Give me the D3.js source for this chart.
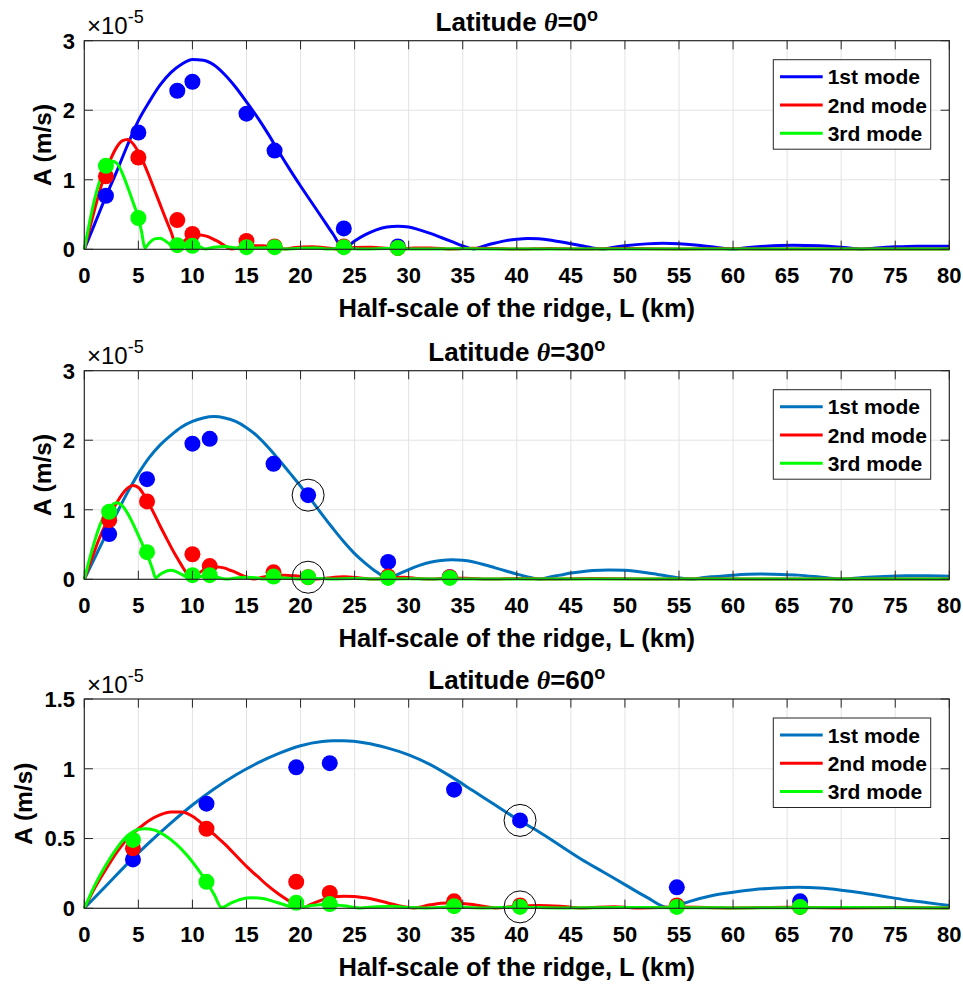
<!DOCTYPE html>
<html>
<head>
<meta charset="utf-8">
<script src="https://cdn.jsdelivr.net/npm/d3@7"></script>
<style>
  body { margin: 0; background: #fff; }
  text { font-family: "Liberation Sans", Arial, Helvetica, sans-serif; fill: #000; }
</style>
</head>
<body>
<div id="chart"></div>
<script>
// ---- Data (amplitudes in units of 1e-5 m/s, L in km) ----
var xTickValues = [0, 5, 10, 15, 20, 25, 30, 35, 40, 45, 50, 55, 60, 65, 70, 75, 80];
var p1YTicks = [0, 1, 2, 3];
var p2YTicks = [0, 1, 2, 3];
var p3YTicks = [0, 0.5, 1, 1.5];
var legendLabels = ["1st mode", "2nd mode", "3rd mode"];
var latitudes = ["0", "30", "60"];

// Latitude 0
var p1Mode1 = [[0,0],[1,0.38],[2,0.76],[3,1.12],[4,1.5],[5,1.85],[6,2.12],[7,2.36],[8,2.54],[9,2.66],[10,2.73],[11,2.72],[12,2.65],[13,2.51],[14,2.33],[15,2.12],[16,1.9],[17,1.66],[18,1.4],[19,1.15],[20,0.91],[21,0.68],[22,0.45],[23,0.22],[24,0.01],[25,0.12],[26,0.21],[27,0.28],[28,0.32],[29,0.33],[30,0.32],[31,0.28],[32,0.23],[33,0.17],[34,0.11],[35,0.05],[36,0.005],[37,0.05],[38,0.09],[39,0.125],[40,0.145],[41,0.155],[42,0.15],[43,0.135],[44,0.11],[45,0.08],[46,0.05],[47,0.02],[48,0.003],[49,0.03],[50,0.05],[52,0.078],[53.5,0.086],[55,0.08],[57,0.055],[58.5,0.025],[60,0.003],[61,0.02],[63,0.045],[65.5,0.058],[68,0.05],[70,0.03],[72,0.003],[73,0.015],[75,0.035],[77,0.045],[79,0.045],[80,0.043]];
var p1Mode2 = [[0,0],[0.5,0.3],[1,0.6],[1.5,0.88],[2,1.12],[2.5,1.32],[3,1.47],[3.5,1.56],[4,1.58],[4.5,1.52],[5,1.4],[5.5,1.24],[6,1.05],[6.5,0.85],[7,0.65],[7.5,0.45],[8,0.26],[8.6,0.03],[9,0.09],[9.5,0.15],[10,0.19],[10.5,0.21],[11,0.2],[11.5,0.18],[12,0.14],[12.5,0.1],[13,0.05],[13.6,0.005],[14.5,0.03],[15.5,0.05],[16.5,0.05],[17.5,0.03],[18.6,0.005],[19.5,0.025],[21,0.035],[22.5,0.02],[23.6,0.003],[25,0.025],[26.5,0.03],[28,0.015],[29,0.003],[30.5,0.02],[32,0.02],[34,0.005],[36,0.015],[38,0.012],[40,0.003],[43,0.012],[46,0.004],[50,0.01],[55,0.004],[60,0.008],[65,0.003],[70,0.006],[75,0.003],[80,0.005]];
var p1Mode3 = [[0,0],[0.5,0.4],[1,0.75],[1.5,1.02],[2,1.2],[2.5,1.27],[3,1.24],[3.5,1.1],[4,0.9],[4.5,0.68],[5,0.45],[5.3,0.25],[5.6,0.02],[6,0.09],[6.5,0.15],[7,0.16],[7.5,0.12],[8,0.06],[8.4,0.005],[9,0.05],[9.7,0.07],[10.5,0.05],[11.2,0.005],[12,0.03],[13,0.04],[14,0.02],[14.8,0.003],[16,0.02],[17.5,0.025],[18.5,0.003],[20,0.015],[21.5,0.018],[22.5,0.003],[24,0.012],[26,0.003],[28,0.01],[30,0.003],[35,0.008],[40,0.003],[50,0.005],[60,0.003],[70,0.004],[80,0.003]];
var p1DotL = [2, 5, 8.6, 10, 15, 17.6, 24, 29];
var p1Dot1 = [0.77, 1.68, 2.28, 2.41, 1.95, 1.42, 0.30, 0.04];
var p1Dot2 = [1.05, 1.32, 0.42, 0.22, 0.12, 0.04, 0.04, 0.02];
var p1Dot3 = [1.20, 0.45, 0.06, 0.05, 0.03, 0.03, 0.03, 0.02];
var p1Circled = [];

// Latitude 30
var p2Mode1 = [[0,0],[1,0.32],[2,0.64],[3,0.95],[4,1.25],[5,1.52],[6,1.75],[7,1.93],[8,2.07],[9,2.19],[10,2.27],[11,2.32],[12,2.34],[13,2.32],[14,2.27],[15,2.18],[16,2.06],[17,1.9],[18,1.72],[19,1.53],[20,1.34],[21,1.14],[22,0.93],[23,0.73],[24,0.54],[25,0.37],[26,0.23],[27,0.11],[28.2,0.01],[29,0.07],[30,0.14],[31,0.2],[32,0.245],[33,0.27],[34,0.28],[35,0.275],[36,0.25],[37,0.21],[38,0.165],[39,0.12],[40,0.075],[41,0.035],[42.2,0.003],[43,0.03],[44,0.06],[45,0.09],[46,0.11],[47,0.125],[48.5,0.135],[50,0.13],[51,0.115],[52,0.095],[53,0.07],[54,0.045],[55,0.02],[56.2,0.003],[57,0.02],[58,0.035],[60,0.06],[62.5,0.075],[64.5,0.07],[66,0.06],[67.5,0.04],[69,0.015],[70,0.003],[71,0.012],[72,0.025],[74,0.042],[76,0.05],[78,0.05],[80,0.045]];
var p2Mode2 = [[0,0],[0.5,0.22],[1,0.43],[1.5,0.63],[2,0.8],[2.5,0.96],[3,1.1],[3.5,1.22],[4,1.31],[4.5,1.35],[5,1.32],[5.5,1.22],[6,1.08],[6.5,0.93],[7,0.77],[7.5,0.62],[8,0.47],[8.5,0.33],[9,0.2],[9.5,0.08],[9.9,0.01],[10.5,0.08],[11,0.13],[11.5,0.16],[12,0.18],[12.5,0.175],[13,0.16],[13.5,0.13],[14,0.1],[14.5,0.065],[15,0.035],[15.7,0.004],[16.5,0.03],[17.5,0.055],[18.5,0.06],[19.5,0.05],[20.5,0.03],[21.5,0.005],[22.5,0.02],[24,0.035],[25.5,0.02],[26.8,0.003],[28,0.02],[29.5,0.03],[31,0.01],[32,0.003],[34,0.02],[36,0.01],[37.5,0.003],[40,0.012],[43,0.004],[47,0.01],[52,0.003],[58,0.008],[64,0.003],[70,0.006],[75,0.003],[80,0.005]];
var p2Mode3 = [[0,0],[0.5,0.3],[1,0.57],[1.5,0.8],[2,0.96],[2.5,1.06],[3,1.1],[3.5,1.06],[4,0.95],[4.5,0.8],[5,0.63],[5.5,0.46],[6,0.28],[6.3,0.15],[6.6,0.02],[7,0.07],[7.5,0.11],[8,0.13],[8.5,0.11],[9,0.07],[9.5,0.03],[9.9,0.003],[10.5,0.03],[11.3,0.05],[12,0.04],[12.8,0.01],[13.2,0.003],[14,0.02],[15,0.03],[16,0.02],[16.6,0.003],[17.5,0.015],[18.5,0.02],[20,0.003],[21.5,0.012],[23,0.003],[25,0.01],[27,0.003],[30,0.008],[35,0.003],[40,0.006],[50,0.003],[60,0.005],[70,0.003],[80,0.004]];
var p2DotL = [2.3, 5.8, 10, 11.6, 17.5, 20.7, 28.1, 33.8];
var p2Dot1 = [0.65, 1.44, 1.95, 2.02, 1.66, 1.21, 0.25, 0.03];
var p2Dot2 = [0.85, 1.12, 0.36, 0.19, 0.10, 0.03, 0.04, 0.03];
var p2Dot3 = [0.97, 0.39, 0.06, 0.06, 0.04, 0.03, 0.02, 0.02];
var p2Circled = [[20.7, 1.21], [20.7, 0.03]];

// Latitude 60
var p3Mode1 = [[0,0],[2,0.16],[4,0.32],[6,0.47],[8,0.61],[10,0.74],[12,0.855],[14,0.955],[16,1.04],[18,1.11],[20,1.165],[22,1.195],[23,1.2],[24,1.2],[26,1.185],[28,1.15],[30,1.1],[32,1.03],[34,0.94],[36,0.84],[38,0.74],[40,0.64],[42,0.55],[44,0.45],[46,0.35],[48,0.26],[50,0.17],[52,0.08],[54,0.005],[55,0.025],[56,0.05],[58,0.09],[60,0.115],[62,0.135],[64,0.145],[66,0.15],[68,0.145],[70,0.13],[72,0.11],[74,0.085],[76,0.06],[78,0.04],[80,0.02]];
var p3Mode2 = [[0,0],[1,0.15],[2,0.28],[3,0.4],[4,0.5],[5,0.57],[6,0.63],[7,0.67],[8,0.69],[9,0.69],[10,0.66],[11,0.6],[12,0.53],[13,0.46],[14,0.38],[15,0.3],[16,0.23],[17,0.16],[18,0.1],[19,0.05],[20.2,0.005],[21,0.03],[22,0.06],[23,0.08],[24,0.087],[25,0.085],[26,0.075],[27,0.06],[28,0.04],[29,0.02],[30.5,0.003],[32,0.025],[33.5,0.038],[35,0.035],[36.5,0.02],[38,0.003],[40,0.015],[42,0.02],[44,0.015],[46,0.003],[49,0.012],[51,0.003],[55,0.01],[60,0.003],[65,0.008],[70,0.003],[75,0.006],[80,0.003]];
var p3Mode3 = [[0,0],[1,0.17],[2,0.31],[3,0.43],[4,0.52],[5,0.565],[5.6,0.57],[6.5,0.56],[7.5,0.52],[8.5,0.46],[9.5,0.38],[10.5,0.28],[11.3,0.19],[12,0.1],[12.7,0.005],[13.5,0.035],[14.5,0.065],[15.5,0.075],[16.5,0.07],[17.5,0.05],[18.5,0.025],[19.7,0.003],[21,0.02],[22.5,0.028],[24,0.018],[25.5,0.003],[27,0.012],[28.5,0.015],[30,0.005],[31.5,0.003],[34,0.01],[37,0.003],[40,0.008],[44,0.003],[50,0.006],[60,0.003],[70,0.005],[80,0.003]];
var p3DotL = [4.5, 11.3, 19.6, 22.7, 34.2, 40.3, 54.8, 66.2];
var p3Dot1 = [0.35, 0.75, 1.01, 1.04, 0.85, 0.63, 0.15, 0.05];
var p3Dot2 = [0.43, 0.57, 0.19, 0.11, 0.05, 0.02, 0.02, 0.01];
var p3Dot3 = [0.49, 0.19, 0.04, 0.03, 0.015, 0.01, 0.01, 0.01];
var p3Circled = [[40.3, 0.63], [40.3, 0.01]];

// ---- Layout ----
var svgWidth = 963;
var svgHeight = 986;
var plotLeft = 84.3;
var plotRight = 949.3;
var tickLen = 8.65;
var dotColors = ["#0000ff", "#ff0000", "#00ff00"];

var panels = [
  { lat: latitudes[0], top: 40.7, bottom: 249.3, yMax: 3, yTicks: p1YTicks, yLabelX: 51,
    modes: [p1Mode1, p1Mode2, p1Mode3], lineColors: ["#0000ff", "#ff0000", "#00ff00"],
    dotL: p1DotL, dots: [p1Dot1, p1Dot2, p1Dot3], circled: p1Circled },
  { lat: latitudes[1], top: 370.7, bottom: 579.3, yMax: 3, yTicks: p2YTicks, yLabelX: 51,
    modes: [p2Mode1, p2Mode2, p2Mode3], lineColors: ["#0072bd", "#ff0000", "#00ff00"],
    dotL: p2DotL, dots: [p2Dot1, p2Dot2, p2Dot3], circled: p2Circled },
  { lat: latitudes[2], top: 699, bottom: 908.3, yMax: 1.5, yTicks: p3YTicks, yLabelX: 32,
    modes: [p3Mode1, p3Mode2, p3Mode3], lineColors: ["#0072bd", "#ff0000", "#00ff00"],
    dotL: p3DotL, dots: [p3Dot1, p3Dot2, p3Dot3], circled: p3Circled }
];

var svg = d3.select("#chart")
  .append("svg")
  .attr("width", svgWidth)
  .attr("height", svgHeight)
  .style("display", "block");

svg.append("rect").attr("width", svgWidth).attr("height", svgHeight).attr("fill", "#fff");

var xScale = d3.scaleLinear().domain([0, 80]).range([plotLeft, plotRight]);

panels.forEach(function(p) {
  var yScale = d3.scaleLinear().domain([0, p.yMax]).range([p.bottom, p.top]);
  var g = svg.append("g");
  var cx = (plotLeft + plotRight) / 2;

  // grid
  g.selectAll(".gx").data(xTickValues.slice(1, -1)).enter().append("line")
    .attr("x1", d => xScale(d)).attr("x2", d => xScale(d))
    .attr("y1", p.top).attr("y2", p.bottom)
    .attr("stroke", "#e3e3e3").attr("stroke-width", 1);
  g.selectAll(".gy").data(p.yTicks.slice(1, -1)).enter().append("line")
    .attr("x1", plotLeft).attr("x2", plotRight)
    .attr("y1", d => yScale(d)).attr("y2", d => yScale(d))
    .attr("stroke", "#e3e3e3").attr("stroke-width", 1);

  // curves
  var line = d3.line()
    .x(d => xScale(d[0]))
    .y(d => yScale(d[1]))
    .curve(d3.curveMonotoneX);
  p.modes.forEach(function(m, i) {
    g.append("path").attr("d", line(m))
      .attr("fill", "none")
      .attr("stroke", p.lineColors[i])
      .attr("stroke-width", 3)
      .attr("stroke-linejoin", "round");
  });

  // simulated points
  p.dots.forEach(function(vals, i) {
    g.selectAll(".dot" + i).data(vals).enter().append("circle")
      .attr("cx", (d, j) => xScale(p.dotL[j]))
      .attr("cy", d => yScale(d))
      .attr("r", 8)
      .attr("fill", dotColors[i]);
  });

  // highlighted points
  g.selectAll(".ring").data(p.circled).enter().append("circle")
    .attr("cx", d => xScale(d[0]))
    .attr("cy", d => yScale(d[1]))
    .attr("r", 16)
    .attr("fill", "none")
    .attr("stroke", "#000")
    .attr("stroke-width", 1);

  // box
  g.append("rect")
    .attr("x", plotLeft).attr("y", p.top)
    .attr("width", plotRight - plotLeft).attr("height", p.bottom - p.top)
    .attr("fill", "none").attr("stroke", "#262626").attr("stroke-width", 1.2);

  // inward ticks
  xTickValues.forEach(function(t) {
    g.append("line").attr("x1", xScale(t)).attr("x2", xScale(t))
      .attr("y1", p.bottom).attr("y2", p.bottom - tickLen).attr("stroke", "#262626");
    g.append("line").attr("x1", xScale(t)).attr("x2", xScale(t))
      .attr("y1", p.top).attr("y2", p.top + tickLen).attr("stroke", "#262626");
  });
  p.yTicks.forEach(function(t) {
    g.append("line").attr("x1", plotLeft).attr("x2", plotLeft + tickLen)
      .attr("y1", yScale(t)).attr("y2", yScale(t)).attr("stroke", "#262626");
    g.append("line").attr("x1", plotRight).attr("x2", plotRight - tickLen)
      .attr("y1", yScale(t)).attr("y2", yScale(t)).attr("stroke", "#262626");
  });

  // tick labels
  g.selectAll(".xl").data(xTickValues).enter().append("text")
    .attr("x", d => xScale(d)).attr("y", p.bottom + 33.5)
    .attr("text-anchor", "middle")
    .style("font-size", "22px").style("font-weight", "bold")
    .text(d => d);
  g.selectAll(".yl").data(p.yTicks).enter().append("text")
    .attr("x", 75).attr("y", d => yScale(d)).attr("dy", "0.36em")
    .attr("text-anchor", "end")
    .style("font-size", "22px").style("font-weight", "bold")
    .text(d => d);

  // axis labels
  g.append("text")
    .attr("x", cx).attr("y", p.bottom + 68)
    .attr("text-anchor", "middle")
    .style("font-size", "25.5px").style("font-weight", "bold")
    .text("Half-scale of the ridge, L (km)");
  g.append("text")
    .attr("transform", `translate(${p.yLabelX}, ${(p.top + p.bottom) / 2}) rotate(-90)`)
    .attr("text-anchor", "middle")
    .style("font-size", "24.5px").style("font-weight", "bold")
    .text("A (m/s)");

  // exponent
  var ex = g.append("text").attr("x", 87).attr("y", p.top - 6.5).style("font-size", "24px");
  ex.append("tspan").text("\u00d710");
  ex.append("tspan").attr("dy", -11).style("font-size", "18px").text("-5");

  // title
  var title = g.append("text")
    .attr("x", cx).attr("y", p.top - 10)
    .attr("text-anchor", "middle")
    .style("font-size", "26px").style("font-weight", "bold");
  title.append("tspan").text("Latitude ");
  title.append("tspan")
    .style("font-family", "'Liberation Serif', 'DejaVu Serif', serif")
    .style("font-style", "italic")
    .text("\u03b8");
  title.append("tspan").text("=" + p.lat);
  title.append("tspan").attr("dy", -10).style("font-size", "18px").text("o");

  // legend
  var lg = g.append("g").attr("transform", `translate(773.3, ${p.top + 19})`);
  lg.append("rect").attr("width", 157.4).attr("height", 89.5)
    .attr("fill", "#fff").attr("stroke", "#262626").attr("stroke-width", 1);
  legendLabels.forEach(function(lbl, i) {
    var yy = 17 + i * 28.3;
    lg.append("line").attr("x1", 6.7).attr("x2", 49.4)
      .attr("y1", yy).attr("y2", yy)
      .attr("stroke", p.lineColors[i]).attr("stroke-width", 3);
    lg.append("text").attr("x", 54.4).attr("y", yy).attr("dy", "0.36em")
      .style("font-size", "21px").style("font-weight", "bold")
      .text(lbl);
  });
});
</script>
</body>
</html>
